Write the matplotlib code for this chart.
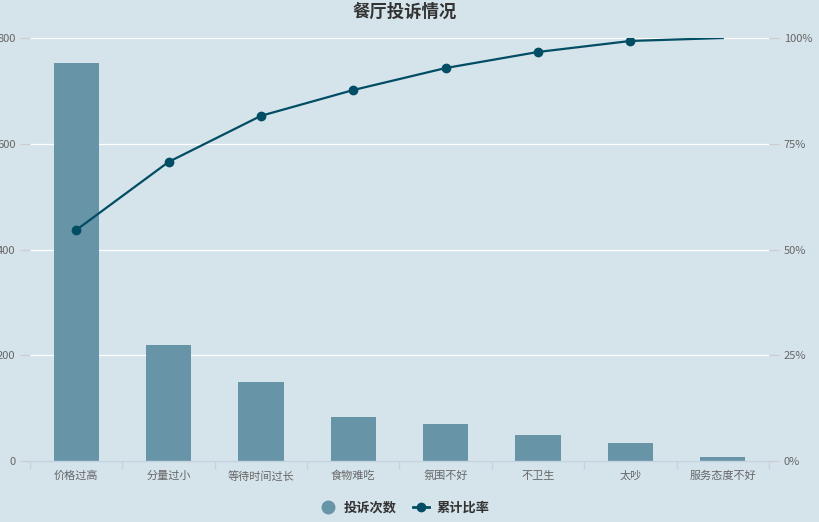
import matplotlib
matplotlib.use("Agg")
import matplotlib.pyplot as plt
from matplotlib.lines import Line2D
import numpy as np

plt.rcParams['font.family'] = ['Noto Sans CJK SC', 'DejaVu Sans']

categories = ["价格过高", "分量过小", "等待时间过长", "食物难吃", "氛围不好", "不卫生", "太吵", "服务态度不好"]
counts = [753, 220, 150, 83, 70, 49, 34, 8]
cum_ratio = [54.6, 70.7, 81.6, 87.7, 92.9, 96.7, 99.3, 100.0]

BG = "#d5e3eb"
BAR = "#6794a7"
LINE = "#014d64"
TICK = "#666666"
AXIS = "#c4d3e0"

fig = plt.figure(figsize=(8.2, 5.22), dpi=100, facecolor=BG)
ax = fig.add_axes([30 / 820, 61 / 522, 739 / 820, 423 / 522], facecolor=BG)
x = np.arange(len(categories))

ax.bar(x, counts, width=0.49, color=BAR, zorder=2)
ax.set_xlim(-0.5, len(categories) - 0.5)
ax.set_ylim(0, 800)
ax.set_yticks([0, 200, 400, 600, 800])
ax.grid(True, axis="y", color="white", linewidth=0.9, zorder=0)
ax.set_axisbelow(True)
for s in ["top", "right", "left"]:
    ax.spines[s].set_visible(False)
ax.spines["bottom"].set_color(AXIS)
ax.spines["bottom"].set_linewidth(1.0)
ax.spines["bottom"].set_zorder(3)

# category labels between small boundary ticks
ax.set_xticks(x)
ax.set_xticklabels(categories, fontsize=8, color=TICK)
ax.tick_params(axis="x", length=0, pad=7)
ax.set_xticks(np.arange(-0.5, len(categories)), minor=True)
ax.tick_params(axis="x", which="minor", length=6, color=AXIS, width=1)
ax.tick_params(axis="y", length=7, color="#cccccc", labelsize=8, labelcolor=TICK, pad=3.5)

ax2 = ax.twinx()
ax2.plot(x, cum_ratio, color=LINE, linewidth=1.6, marker="o", markersize=6,
         markevery=list(range(len(categories) - 1)), zorder=4)
ax2.set_ylim(0, 100)
ax2.set_yticks([0, 25, 50, 75, 100])
ax2.set_yticklabels(["0%", "25%", "50%", "75%", "100%"])
ax2.tick_params(axis="y", length=7, color="#cccccc", labelsize=8, labelcolor=TICK, pad=3.5)
for s in ax2.spines.values():
    s.set_visible(False)

fig.text(0.494, 0.977, "餐厅投诉情况", ha="center", va="center",
         fontsize=12.5, fontweight="bold", color="#333333")

handles = [
    Line2D([], [], linestyle="none", marker="o", markersize=9, color=BAR),
    Line2D([], [], color=LINE, linewidth=2, marker="o", markersize=6),
]
fig.legend(handles, ["投诉次数", "累计比率"], loc="center", bbox_to_anchor=(0.494, 0.028),
           ncol=2, frameon=False, handlelength=1.2, handletextpad=0.6, columnspacing=1.2,
           prop={"size": 9.5, "weight": "bold"}, labelcolor="#333333")

fig.savefig("out.png", dpi=100, facecolor=BG)
